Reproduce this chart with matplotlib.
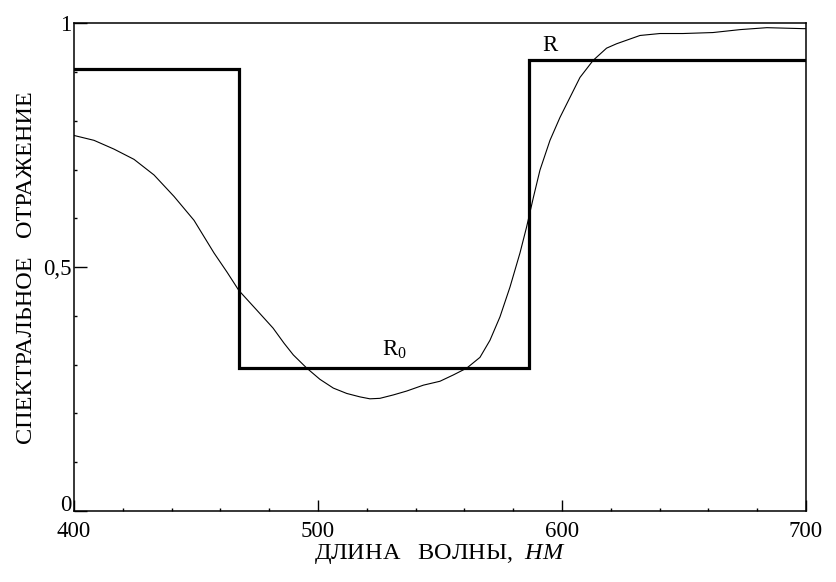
import matplotlib
matplotlib.use('Agg')
import matplotlib.pyplot as plt
from matplotlib.ticker import MultipleLocator

# step function R (edges and levels)
step_x = [400, 467.6, 467.6, 586.6, 586.6, 700]
step_y = [0.906, 0.906, 0.293, 0.293, 0.924, 0.924]

wl = [400, 408.2, 416.4, 424.6, 432.8, 441.0, 449.2, 457.4, 462.7, 467.6,
      474.9, 481.6, 486.1, 489.9, 495.4, 500.8, 506.3, 511.8, 517.2, 521.3,
      525.4, 530.9, 536.4, 543.2, 550.0, 555.5, 561.0, 566.4, 570.5, 574.6,
      578.7, 582.8, 585.5, 588.3, 591.0, 595.1, 599.2, 603.3, 607.4, 612.8,
      618.3, 622.4, 632.0, 640.2, 649.6, 661.9, 673.0, 684.0, 698.8, 700]
refl = [0.770, 0.760, 0.742, 0.721, 0.689, 0.645, 0.596, 0.529, 0.490, 0.452,
        0.412, 0.375, 0.344, 0.320, 0.293, 0.270, 0.252, 0.241, 0.234, 0.230,
        0.231, 0.238, 0.246, 0.258, 0.266, 0.279, 0.293, 0.315, 0.350, 0.398,
        0.459, 0.529, 0.582, 0.643, 0.699, 0.760, 0.807, 0.848, 0.889, 0.924,
        0.949, 0.958, 0.975, 0.979, 0.979, 0.981, 0.987, 0.991, 0.989, 0.989]

xticks = [400, 500, 600, 700]
yticks = [0, 0.5, 1]
ytick_labels = ['0', '0,5', '1']

plt.rcParams['font.family'] = ['Liberation Serif', 'DejaVu Serif']
plt.rcParams['mathtext.fontset'] = 'custom'
plt.rcParams['mathtext.rm'] = 'Liberation Serif'
plt.rcParams['mathtext.it'] = 'Liberation Serif:italic'


def main():
    fig = plt.figure(figsize=(8.36, 5.82), dpi=100)
    ax = fig.add_axes([0.0885, 0.122, 0.8755, 0.838])

    ax.plot(step_x, step_y, color='black', linewidth=2.3, solid_joinstyle='miter')
    ax.plot(wl, refl, color='black', linewidth=0.8)

    ax.set_xlim(400, 700)
    ax.set_ylim(0, 1)
    ax.set_xticks(xticks)
    ax.set_xticklabels([str(t) for t in xticks])
    ax.set_yticks(yticks)
    ax.set_yticklabels(ytick_labels)
    ax.xaxis.set_minor_locator(MultipleLocator(20))
    ax.yaxis.set_minor_locator(MultipleLocator(0.1))
    ax.tick_params(which='major', direction='in', length=8, width=1,
                   labelsize=16.5)
    ax.tick_params(which='minor', direction='in', length=2.5, width=1)
    ax.tick_params(axis='x', which='major', pad=7)
    ax.tick_params(axis='y', which='major', length=9, pad=2)
    # the "0" sits on the corner, as in the original
    ax.get_yticklabels()[0].set_va('baseline')
    for sp in ax.spines.values():
        sp.set_linewidth(1.1)

    ax.text(595, 0.955, 'R', fontsize=16.5, ha='center', va='center')
    ax.text(531.5, 0.33, r'R$_{\mathrm{0}}$', fontsize=16.5, ha='center', va='center')

    ax.set_xlabel(r'ДЛИНА   ВОЛНЫ,  $\mathit{НМ}$', fontsize=17.5, labelpad=0)
    ax.set_ylabel('СПЕКТРАЛЬНОЕ   ОТРАЖЕНИЕ', fontsize=17.5, labelpad=4)

    fig.savefig('out.png', dpi=100)


if __name__ == "__main__":
    main()
